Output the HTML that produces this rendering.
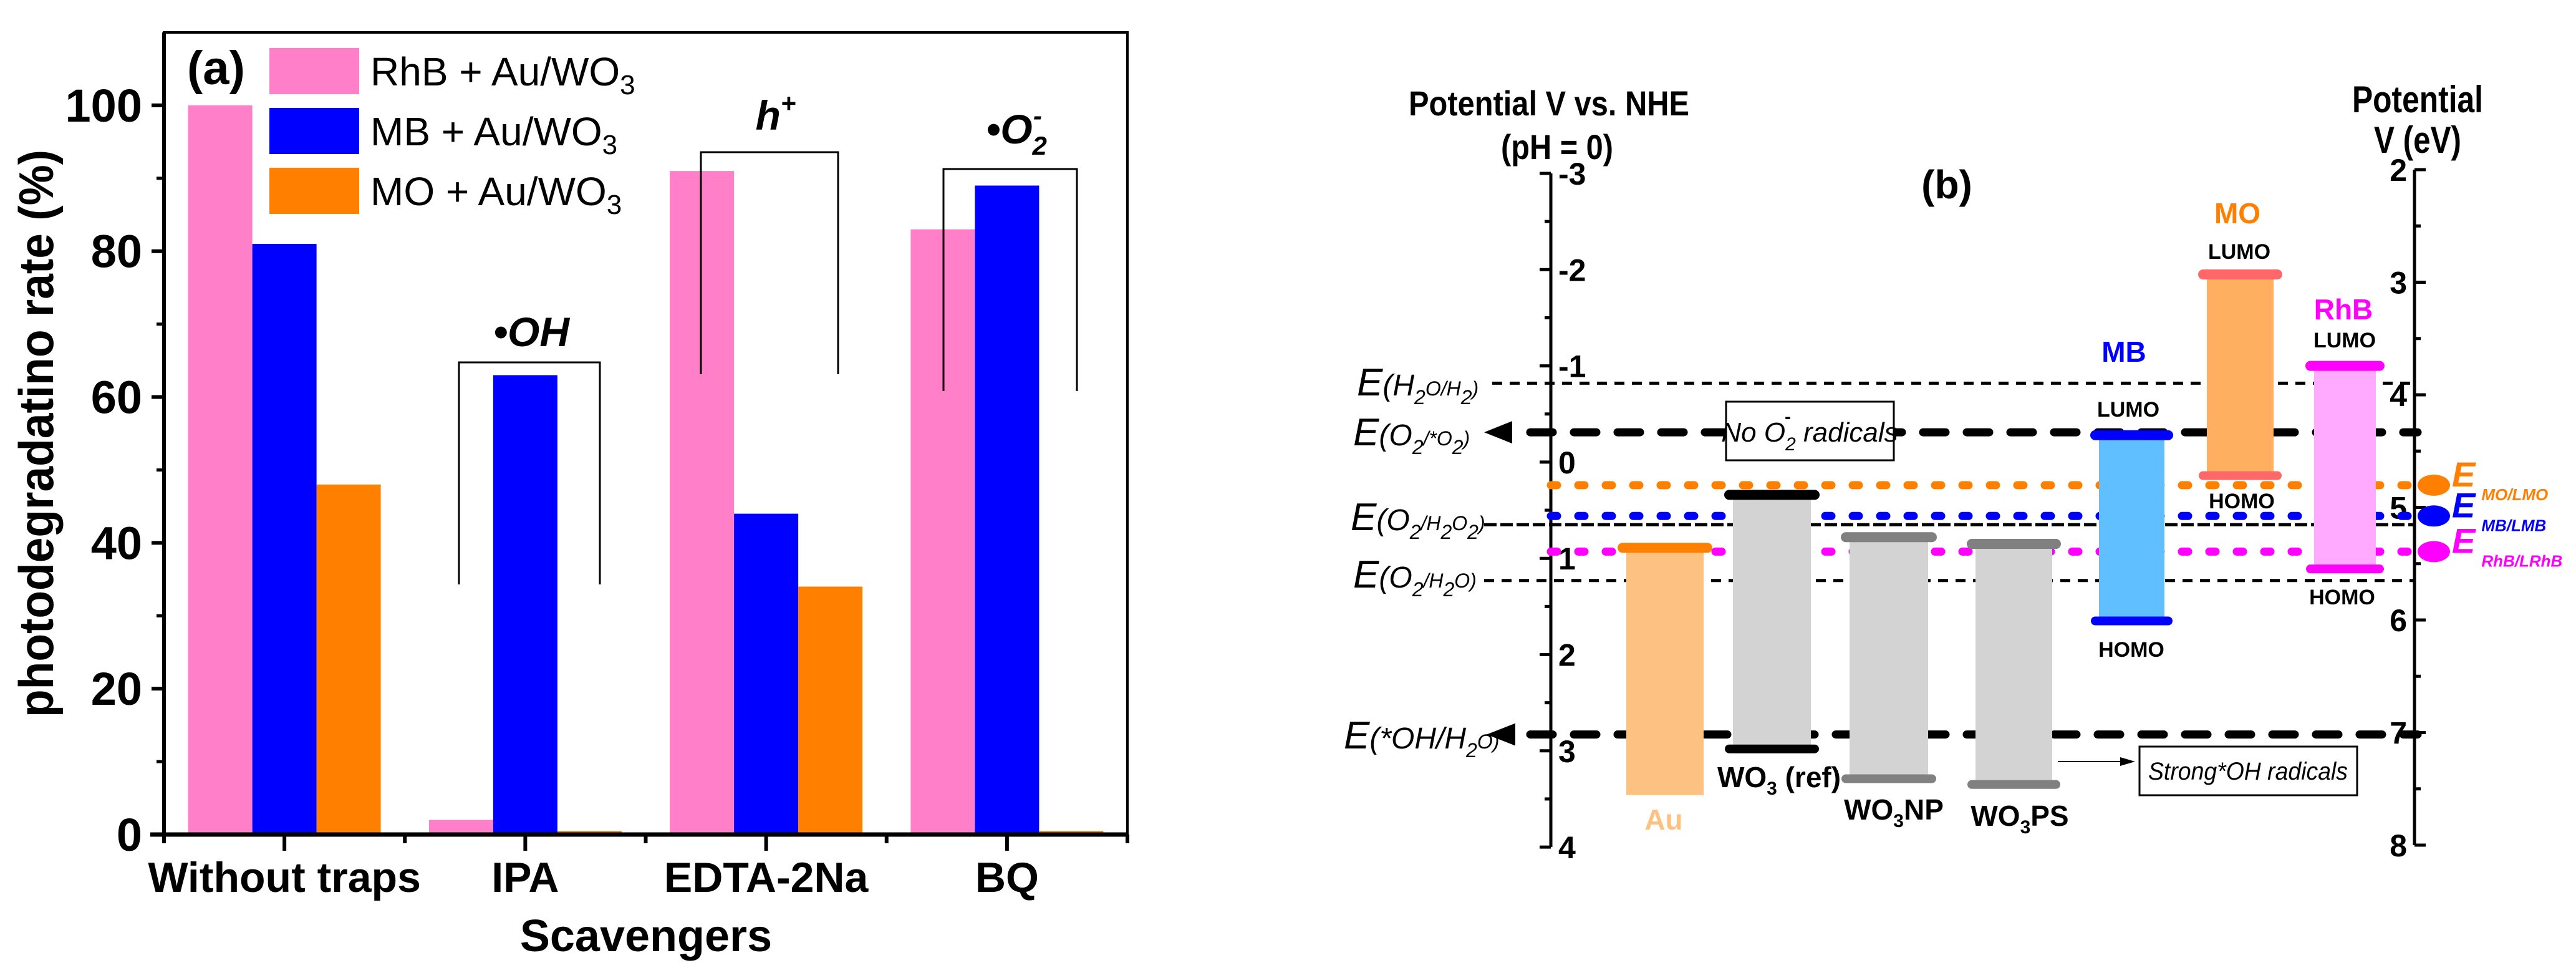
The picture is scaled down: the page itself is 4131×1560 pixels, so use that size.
<!DOCTYPE html>
<html><head><meta charset="utf-8">
<style>
html,body{margin:0;padding:0;background:#fff;}
svg{display:block;}
text{font-family:"Liberation Sans",sans-serif;}
</style></head>
<body>
<svg id="fig" width="4131" height="1560" viewBox="0 0 4131 1560" xmlns="http://www.w3.org/2000/svg">
<g id="pa"></g>
<g id="pb"></g>
</svg>
<script>
// ---------- Panel (a) data ----------
const categories = ["Without traps", "IPA", "EDTA-2Na", "BQ"];
const seriesNames = ["RhB + Au/WO", "MB + Au/WO", "MO + Au/WO"];
const rhbValues = [100, 2, 91, 83];
const mbValues = [81, 63, 44, 89];
const moValues = [48, 0.5, 34, 0.5];
const yTicks = [0, 20, 40, 60, 80, 100];
const yMinorTicks = [10, 30, 50, 70, 90];
// ---------- Panel (b) data ----------
const nheTicks = [-3, -2, -1, 0, 1, 2, 3, 4];
const evTicks = [2, 3, 4, 5, 6, 7, 8];
const bandNames = ["Au", "WO3 (ref)", "WO3 NP", "WO3 PS", "MB", "MO", "RhB"];
const bandTops = [0.89, 0.34, 0.78, 0.85, -0.28, -1.95, -1.0];
const bandBottoms = [3.46, 2.98, 3.29, 3.35, 1.65, 0.14, 1.11];
const refNames = ["H2O/H2", "O2/O2-", "MO/LMO", "MB/LMB", "O2/H2O2", "RhB/LRhB", "O2/H2O", "OH/H2O"];
const refLevels = [-0.82, -0.31, 0.24, 0.56, 0.65, 0.93, 1.23, 2.83];

const NS = "http://www.w3.org/2000/svg";
function mk(parent, tag, attrs, txt) {
  const el = document.createElementNS(NS, tag);
  for (const k in attrs) el.setAttribute(k, attrs[k]);
  if (txt !== undefined) el.textContent = txt;
  parent.appendChild(el);
  return el;
}
// ===== Panel A =====
const pa = document.getElementById("pa");
const L = 263, R = 1808, T = 52, B = 1338, YMAX = 110;
const ya = v => B - (B - T) * v / YMAX;
const bandW = (R - L) / categories.length;
const xc = i => L + bandW * (i + 0.5);
const barW = 103;
const colors = ["#ff80c8", "#0000ff", "#ff8000"];
const allSeries = [rhbValues, mbValues, moValues];
allSeries.forEach((vals, s) => {
  vals.forEach((v, i) => {
    const x = xc(i) + (s - 1) * barW - barW / 2;
    const r = mk(pa, "rect", {x: x, y: ya(v), width: barW, height: B - ya(v), fill: colors[s]});
    
    
  });
});
let fr = mk(pa, "rect", {x: L, y: T, width: R - L, height: B - T, fill: "none", stroke: "#000", "stroke-width": 4});


let xa = mk(pa, "line", {x1: L - 22, y1: B, x2: R, y2: B, stroke: "#000", "stroke-width": 7});


let yaxis = mk(pa, "line", {x1: L, y1: T, x2: L, y2: B + 14, stroke: "#000", "stroke-width": 6});


yTicks.forEach(v => {
  mk(pa, "line", {x1: L - 20, y1: ya(v), x2: L, y2: ya(v), stroke: "#000", "stroke-width": 6});
  const t = mk(pa, "text", {x: 228, y: ya(v) + 26, "text-anchor": "end", "font-size": 74, "font-weight": "bold"}, String(v));
  
  
});
yMinorTicks.forEach(v => mk(pa, "line", {x1: L - 12, y1: ya(v), x2: L, y2: ya(v), stroke: "#000", "stroke-width": 5}));
categories.forEach((c, i) => {
  mk(pa, "line", {x1: xc(i), y1: B, x2: xc(i), y2: B + 26, stroke: "#000", "stroke-width": 6});
  mk(pa, "line", {x1: L + bandW * (i + 1), y1: B, x2: L + bandW * (i + 1), y2: B + 14, stroke: "#000", "stroke-width": 6});
  const t = mk(pa, "text", {x: xc(i), y: 1430, "text-anchor": "middle", "font-size": 68, "font-weight": "bold"}, c);
  
  
});
let xt = mk(pa, "text", {x: 1036, y: 1525, "text-anchor": "middle", "font-size": 72, "font-weight": "bold"}, "Scavengers");


let yt = mk(pa, "text", {x: 0, y: 0, "text-anchor": "middle", "font-size": 78, "font-weight": "bold", transform: "translate(85,695) rotate(-90)", textLength: 910, lengthAdjust: "spacingAndGlyphs"}, "photodegradatino rate (%)");


let lab = mk(pa, "text", {x: 300, y: 135, "font-size": 76, "font-weight": "bold", "font-family": "Liberation Serif, serif"}, "(a)");


seriesNames.forEach((n, s) => {
  const y0 = 77 + s * 96;
  const sw = mk(pa, "rect", {x: 432, y: y0, width: 144, height: 74, fill: colors[s]});
  
  
  const t = mk(pa, "text", {x: 594, y: y0 + 60, "font-size": 64}, n);
  
  
  mk(t, "tspan", {"font-size": 44, dy: 14}, "3");
});
const brackets = [[736, 962, 581, 937], [1124, 1344, 244, 600], [1513, 1727, 271, 627]];
brackets.forEach((b) => {
  const p = mk(pa, "path", {d: `M${b[0]},${b[3]} V${b[2]} H${b[1]} V${b[3]}`, fill: "none", stroke: "#000", "stroke-width": 3});
  
  
});
let t1 = mk(pa, "text", {x: 852, y: 555, "text-anchor": "middle", "font-size": 66, "font-weight": "bold", "font-style": "italic"}, "\u2022OH");


let t2 = mk(pa, "text", {x: 1244, y: 208, "text-anchor": "middle", "font-size": 66, "font-weight": "bold", "font-style": "italic"}, "h");


mk(t2, "tspan", {"font-size": 42, dy: -28}, "+");
let t3 = mk(pa, "text", {x: 1630, y: 230, "text-anchor": "middle", "font-size": 66, "font-weight": "bold", "font-style": "italic"}, "\u2022O");


mk(t3, "tspan", {"font-size": 42, dy: 18}, "2");
mk(t3, "tspan", {"font-size": 42, dy: -48, dx: -22}, "-");

// ===== Panel B =====
const pb = document.getElementById("pb");
const AX = 2487, AX2 = 3872;
const yv = v => 278 + 154.3 * (v + 3);
const ye = ev => 272 + 180.5 * (ev - 2);
mk(pb, "line", {x1: AX, y1: yv(-3), x2: AX, y2: yv(4), stroke: "#000", "stroke-width": 5});
mk(pb, "line", {x1: AX2, y1: ye(2), x2: AX2, y2: ye(8), stroke: "#000", "stroke-width": 5});
nheTicks.forEach(v => {
  mk(pb, "line", {x1: AX - 18, y1: yv(v), x2: AX, y2: yv(v), stroke: "#000", "stroke-width": 5});
  if (v < 4) mk(pb, "line", {x1: AX - 10, y1: yv(v + 0.5), x2: AX, y2: yv(v + 0.5), stroke: "#000", "stroke-width": 5});
  const t = mk(pb, "text", {x: AX + 12, y: yv(v) + 18, "font-size": 50, "font-weight": "bold"}, String(v));
  
  
});
evTicks.forEach(ev => {
  mk(pb, "line", {x1: AX2, y1: ye(ev), x2: AX2 + 18, y2: ye(ev), stroke: "#000", "stroke-width": 5});
  if (ev < 8) mk(pb, "line", {x1: AX2, y1: ye(ev + 0.5), x2: AX2 + 10, y2: ye(ev + 0.5), stroke: "#000", "stroke-width": 5});
  const t = mk(pb, "text", {x: AX2 - 12, y: ye(ev) + 18, "text-anchor": "end", "font-size": 50, "font-weight": "bold"}, String(ev));
  
  
});
const refStyles = [
  {x1: 2393, x2: 3871, c: "#000", w: 5, d: "16 12", cap: "butt"},
  {x1: 2454, x2: 3877, c: "#000", w: 13, d: "36 34", cap: "round"},
  {x1: 2487, x2: 3897, c: "#ff8000", w: 13, d: "10 34", cap: "round"},
  {x1: 2487, x2: 3900, c: "#0000ff", w: 13, d: "10 34", cap: "round"},
  {x1: 2380, x2: 3871, c: "#000", w: 5, d: "20 6", cap: "butt"},
  {x1: 2487, x2: 3897, c: "#ff00ff", w: 13, d: "10 34", cap: "round"},
  {x1: 2380, x2: 3871, c: "#000", w: 5, d: "16 12", cap: "butt"},
  {x1: 2454, x2: 3877, c: "#000", w: 13, d: "36 34", cap: "round"}
];
refLevels.forEach((v, i) => {
  const s = refStyles[i];
  const ln = mk(pb, "line", {x1: s.x1, y1: yv(v), x2: s.x2, y2: yv(v), stroke: s.c, "stroke-width": s.w, "stroke-dasharray": s.d, "stroke-linecap": s.cap});
  
  
});
const bandX = [2608, 2779, 2966, 3168, 3366, 3539, 3711];
const bandWid = [124, 125, 126, 123, 105, 107, 99];
const bandFill = ["#fdc282", "#d3d3d3", "#d3d3d3", "#d3d3d3", "#5fbfff", "#ffaf5f", "#ffaaff"];
const capCol = ["#ff8000", "#000", "#808080", "#808080", "#0000ff", "#ff6868", "#ff00ff"];
bandNames.forEach((n, i) => {
  const y1 = yv(bandTops[i]), y2 = yv(bandBottoms[i]);
  const r = mk(pb, "rect", {x: bandX[i], y: y1, width: bandWid[i], height: y2 - y1, fill: bandFill[i]});
  
  
  mk(pb, "line", {x1: bandX[i] - 6, y1: y1, x2: bandX[i] + bandWid[i] + 6, y2: y1, stroke: capCol[i], "stroke-width": 16, "stroke-linecap": "round"});
  if (i !== 0) mk(pb, "line", {x1: bandX[i] - 6, y1: y2, x2: bandX[i] + bandWid[i] + 6, y2: y2, stroke: capCol[i], "stroke-width": 14, "stroke-linecap": "round"});
});
function TX(x, y, s, txt, o) {
  const a = Object.assign({x: x, y: y, "font-size": s, "font-weight": "bold", "text-anchor": "middle"}, o || {});
  return mk(pb, "text", a, txt);
}
let e;
e = TX(2484, 185, 56, "Potential V vs. NHE", {textLength: 450, lengthAdjust: "spacingAndGlyphs"});  
e = TX(2497, 255, 56, "(pH = 0)", {textLength: 180, lengthAdjust: "spacingAndGlyphs"});  
e = TX(3877, 180, 60, "Potential", {textLength: 210, lengthAdjust: "spacingAndGlyphs"});  
e = TX(3877, 245, 60, "V (eV)", {textLength: 140, lengthAdjust: "spacingAndGlyphs"});  
e = TX(3122, 318, 64, "(b)", {"font-family": "Liberation Serif, serif"});  
e = TX(2668, 1330, 46, "Au", {fill: "#fdc282"});  
e = TX(2853, 1262, 46, "WO"); mk(e, "tspan", {"font-size": 30, dy: 12}, "3"); mk(e, "tspan", {dy: -12}, " (ref)");  
e = TX(3037, 1314, 46, "WO"); mk(e, "tspan", {"font-size": 30, dy: 12}, "3"); mk(e, "tspan", {dy: -12}, "NP");  
e = TX(3239, 1324, 46, "WO"); mk(e, "tspan", {"font-size": 30, dy: 12}, "3"); mk(e, "tspan", {dy: -12}, "PS");  
e = TX(3406, 580, 46, "MB", {fill: "#0000ff"});  
e = TX(3413, 668, 34, "LUMO");  
e = TX(3418, 1053, 34, "HOMO");  
e = TX(3588, 358, 46, "MO", {fill: "#ff8000"});  
e = TX(3591, 415, 34, "LUMO");  
e = TX(3595, 815, 34, "HOMO");  
e = TX(3758, 512, 46, "RhB", {fill: "#ff00ff"});  
e = TX(3760, 557, 34, "LUMO");  
e = TX(3756, 969, 34, "HOMO");  
e = mk(pb, "rect", {x: 2768, y: 644, width: 269, height: 94, fill: "#fff", stroke: "#000", "stroke-width": 3});  
e = TX(2902, 708, 44, "No O", {"font-style": "italic", "font-weight": "normal"}); mk(e, "tspan", {"font-size": 30, dy: 14}, "2"); mk(e, "tspan", {dy: -14}, " radicals");  
mk(pb, "text", {x: 2862, y: 678, "font-size": 30, "font-weight": "bold"}, "-");
e = mk(pb, "rect", {x: 3431, y: 1197, width: 349, height: 78, fill: "#fff", stroke: "#000", "stroke-width": 3});  
e = TX(3605, 1250, 40, "Strong*OH radicals", {"font-style": "italic", "font-weight": "normal", textLength: 320, lengthAdjust: "spacingAndGlyphs"});  
e = mk(pb, "line", {x1: 3300, y1: 1221, x2: 3405, y2: 1221, stroke: "#000", "stroke-width": 2});  
mk(pb, "polygon", {points: "3424,1221 3400,1214 3400,1228", fill: "#000"});
function ELabel(x, y, parts, name) {
  const t = mk(pb, "text", {x: x, y: y, "font-size": 48, "font-style": "italic"});
  mk(t, "tspan", {"font-size": 62}, "E");
  parts.forEach(p => mk(t, "tspan", p[1] ? {"font-size": 32, dy: p[1]} : {}, p[0]));
  
  
}
ELabel(2176, 634, [["(H"], ["2", 14], ["O/H", -14], ["2", 14], [")", -14]], 'label-h2o-h2');
ELabel(2170, 714, [["(O"], ["2", 14], ["/*O", -14], ["2", 14], [")", -14]], 'label-o2-superoxide');
ELabel(2166, 850, [["(O"], ["2", 14], ["/H", -14], ["2", 14], ["O", -14], ["2", 14], [")", -14]], 'label-o2-h2o2');
ELabel(2170, 942, [["(O"], ["2", 14], ["/H", -14], ["2", 14], ["O)", -14]], 'label-o2-h2o');
ELabel(2155, 1200, [["(*OH/H"], ["2", 14], ["O)", -14]], 'label-oh-h2o');
mk(pb, "polygon", {points: `2380,${yv(-0.31)} 2425,${yv(-0.31) - 18} 2425,${yv(-0.31) + 18}`, fill: "#000"});
mk(pb, "polygon", {points: `2384,${yv(2.83)} 2430,${yv(2.83) - 18} 2430,${yv(2.83) + 18}`, fill: "#000"});
const mkC = ["#ff8000", "#0000ff", "#ff00ff"];
const mkLv = [refLevels[2], refLevels[3], refLevels[5]];
const mkSub = ["MO/LMO", "MB/LMB", "RhB/LRhB"];
mkLv.forEach((v, i) => {
  const c = mk(pb, "ellipse", {cx: 3903, cy: yv(v), rx: 26, ry: 17, fill: mkC[i]});
  
  
  const t = mk(pb, "text", {x: 3932, y: yv(v) + 2, "font-size": 56, "font-weight": "bold", "font-style": "italic", fill: mkC[i]}, "E");
  mk(t, "tspan", {"font-size": 26, dy: 22, dx: 10}, mkSub[i]);
  
  
});
</script>
</body></html>
